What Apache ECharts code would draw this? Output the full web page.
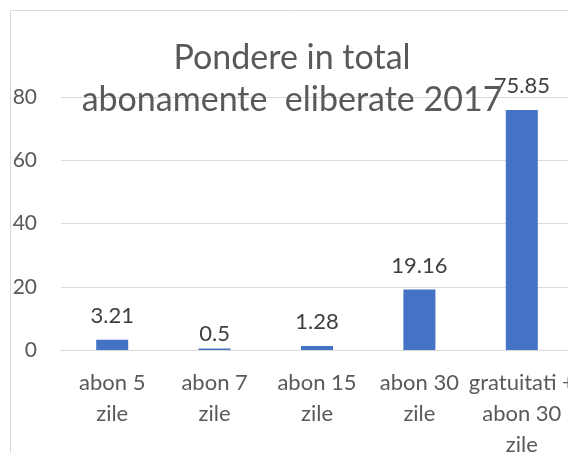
<!DOCTYPE html>
<html>
<head>
<meta charset="utf-8">
<script src="https://cdn.jsdelivr.net/npm/echarts@6/dist/echarts.min.js"></script>
<style>html,body{margin:0;padding:0;background:#fff;}#c{width:568px;height:453px;}</style>
</head>
<body>
<div id="c"></div>
<script>
const titleText = "Pondere in total\nabonamente  eliberate 2017";
const categories = ["abon 5\nzile", "abon 7\nzile", "abon 15\nzile", "abon 30\nzile", "gratuitati +\nabon 30\nzile"];
const values = [3.21, 0.5, 1.28, 19.16, 75.85];
const yTicks = [0, 20, 40, 60, 80];

const FONT = "Lato";
const chart = echarts.init(document.getElementById('c'), null, {renderer: 'canvas'});
chart.setOption({
  animation: false,
  backgroundColor: '#fff',
  graphic: [
    {type: 'rect', shape: {x: 10.5, y: 10.5, width: 700, height: 600},
     style: {fill: 'none', stroke: '#d9d9d9', lineWidth: 1}, z: -1},
    {type: 'text', x: 292, y: 37, z: 10,
     style: {text: titleText, font: '34px ' + FONT, fill: '#595959', textAlign: 'center', textVerticalAlign: 'top', lineHeight: 42}}
  ],
  grid: {left: 61, right: -5, top: 97, bottom: 103, containLabel: false, outerBoundsMode: 'none'},
  xAxis: {
    type: 'category', data: categories,
    axisLine: {show: true, lineStyle: {color: '#d9d9d9', width: 1}},
    axisTick: {show: false},
    axisLabel: {color: '#595959', fontFamily: FONT, fontSize: 22, lineHeight: 31, margin: 17, interval: 0, hideOverlap: false}
  },
  yAxis: {
    type: 'value', min: yTicks[0], max: yTicks[yTicks.length - 1], interval: yTicks[1] - yTicks[0],
    axisLine: {show: false}, axisTick: {show: false},
    splitLine: {lineStyle: {color: '#d9d9d9', width: 1}},
    axisLabel: {color: '#595959', fontFamily: FONT, fontSize: 21, margin: 24}
  },
  series: [{
    type: 'bar', barWidth: 32,
    itemStyle: {color: '#4472c4'},
    data: values.map((v, i) => i === 1 ? {value: v, label: {distance: 4}} : v),
    label: {show: true, position: 'top', distance: 13, color: '#404040', fontFamily: FONT, fontSize: 22}
  }]
});
</script>
</body>
</html>
